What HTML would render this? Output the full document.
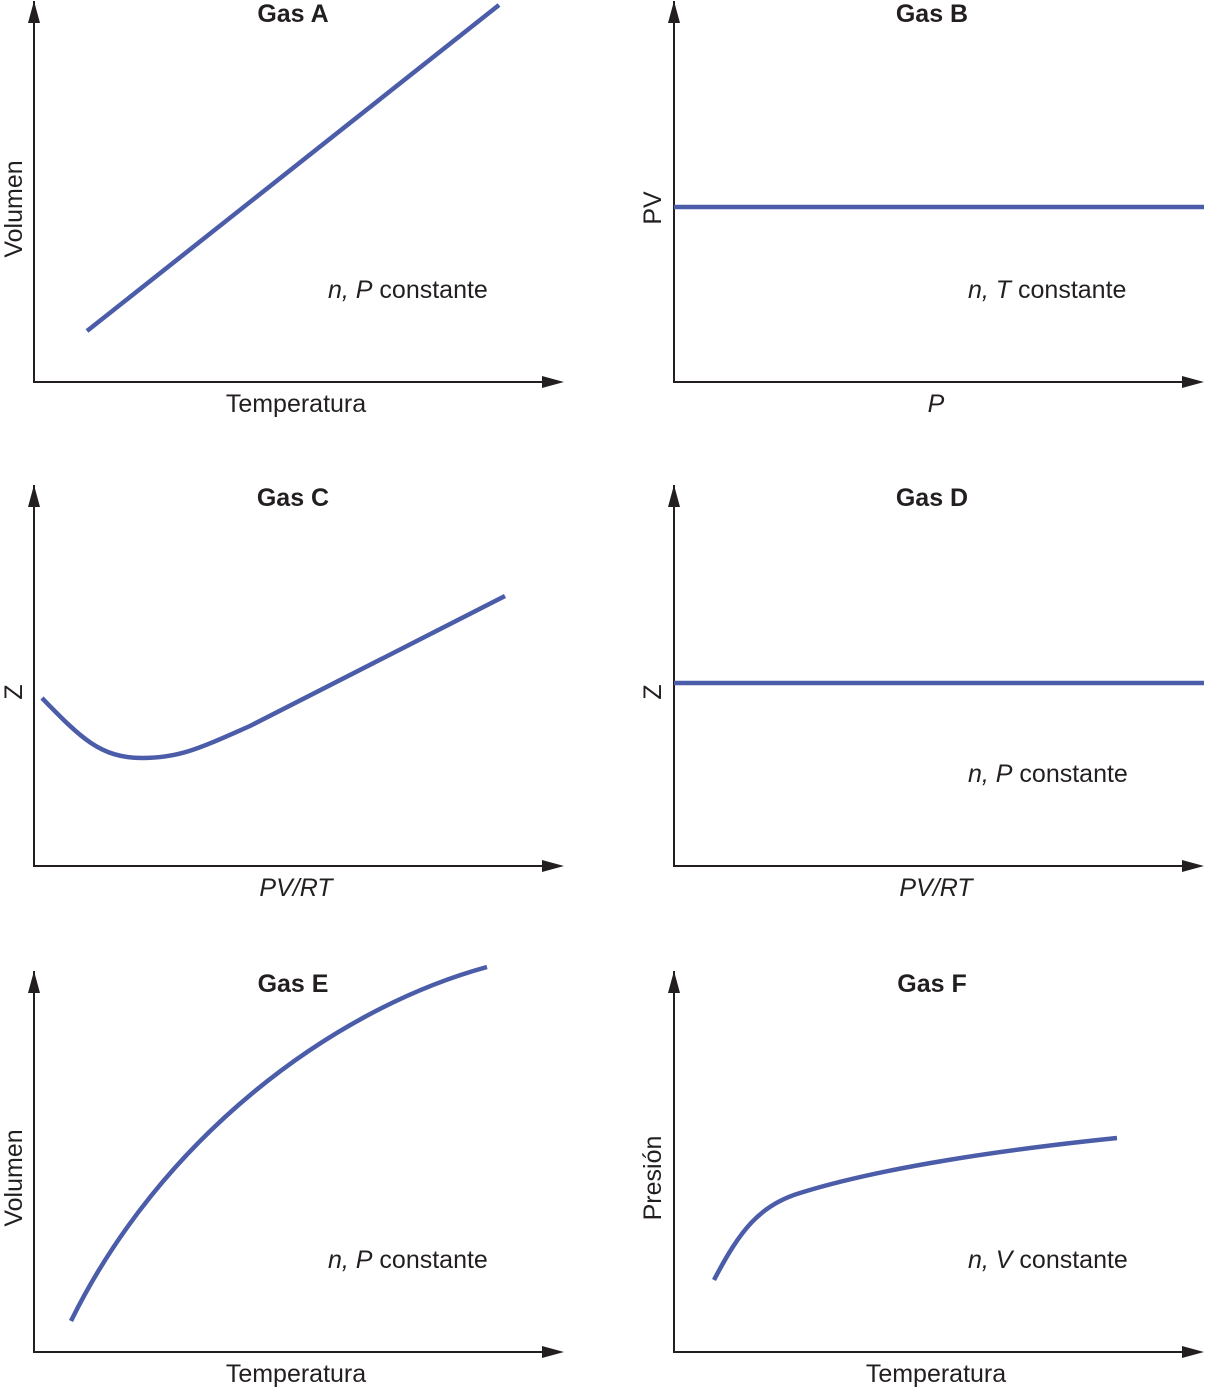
<!DOCTYPE html>
<html><head><meta charset="utf-8"><style>
html,body{margin:0;padding:0;background:#fff}
svg{display:block}
text{font-family:"Liberation Sans",Arial,sans-serif;fill:#231f20;font-size:25px}
.t{font-weight:bold;text-anchor:middle}
.c{text-anchor:middle}
.ax{stroke:#231f20;stroke-width:2;fill:none}
.cv{stroke:#4b5ca9;stroke-width:4.5;fill:none}
</style></head><body>
<svg width="1205" height="1390" viewBox="0 0 1205 1390">
<defs>
<g id="axes">
<path class="ax" d="M0 0V381H510"/>
<path d="M-6 22L0 0L6 22Z" fill="#231f20"/>
<path d="M508 375L530 381L508 387Z" fill="#231f20"/>
</g>
</defs>
<use href="#axes" x="34" y="1"/>
<use href="#axes" x="674" y="1"/>
<use href="#axes" x="34" y="485"/>
<use href="#axes" x="674" y="485"/>
<use href="#axes" x="34" y="971"/>
<use href="#axes" x="674" y="971"/>

<text class="t" x="293" y="22">Gas A</text>
<text class="t" x="932" y="22">Gas B</text>
<text class="t" x="293" y="506">Gas C</text>
<text class="t" x="932" y="506">Gas D</text>
<text class="t" x="293" y="992">Gas E</text>
<text class="t" x="932" y="992">Gas F</text>

<text class="c" x="296" y="412">Temperatura</text>
<text class="c" x="936" y="412" font-style="italic">P</text>
<text class="c" x="296" y="896" font-style="italic">PV/RT</text>
<text class="c" x="936" y="896" font-style="italic">PV/RT</text>
<text class="c" x="296" y="1382">Temperatura</text>
<text class="c" x="936" y="1382">Temperatura</text>

<text class="c" transform="translate(22,209) rotate(-90)">Volumen</text>
<text class="c" transform="translate(661,208) rotate(-90)">PV</text>
<text class="c" transform="translate(22,692) rotate(-90)">Z</text>
<text class="c" transform="translate(661,692) rotate(-90)">Z</text>
<text class="c" transform="translate(22,1178) rotate(-90)">Volumen</text>
<text class="c" transform="translate(661,1178) rotate(-90)">Presión</text>

<text x="328" y="298"><tspan font-style="italic">n, P</tspan> constante</text>
<text x="968" y="298"><tspan font-style="italic">n, T</tspan> constante</text>
<text x="968" y="782"><tspan font-style="italic">n, P</tspan> constante</text>
<text x="328" y="1268"><tspan font-style="italic">n, P</tspan> constante</text>
<text x="968" y="1268"><tspan font-style="italic">n, V</tspan> constante</text>

<path class="cv" d="M87 331L499 5"/>
<path class="cv" d="M674 207H1204"/>
<path class="cv" d="M42 698C80 737 100 758 142 758C180 758 200 748 250 726L505 596"/>
<path class="cv" d="M674 683H1204"/>
<path class="cv" d="M71 1321C160 1140 330 1010 487 967"/>
<path class="cv" d="M714 1280C740 1230 760 1205 800 1193C880 1168 1000 1150 1117 1138"/>
</svg>
</body></html>
